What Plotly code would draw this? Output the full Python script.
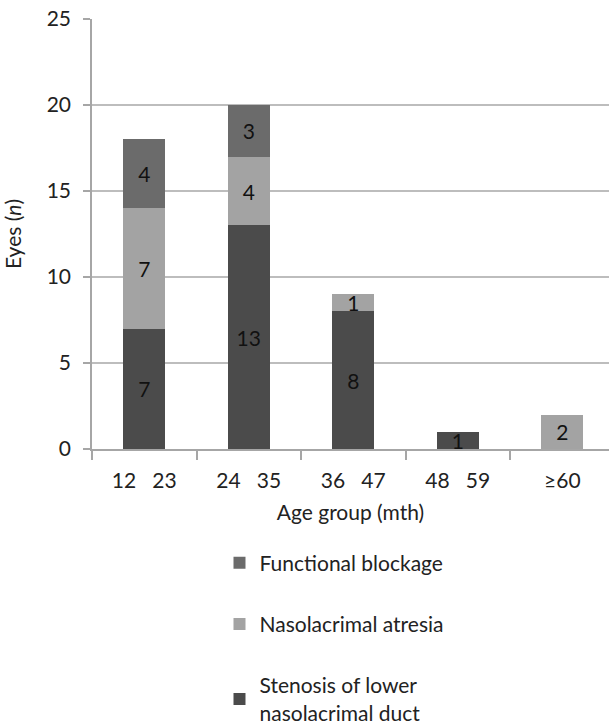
import plotly.graph_objects as go

categories = ["12\u00a0\u00a0\u00a023", "24\u00a0\u00a0\u00a035", "36\u00a0\u00a0\u00a047", "48\u00a0\u00a0\u00a059", "\u226560"]
stenosis = [7, 13, 8, 1, 0]
atresia = [7, 4, 1, 0, 2]
functional = [4, 3, 0, 0, 0]

series = [
    ("Stenosis of lower<br>nasolacrimal duct", stenosis, "#4b4b4b", "g3", 3),
    ("Nasolacrimal atresia", atresia, "#a3a3a3", "g2", 2),
    ("Functional blockage", functional, "#6b6b6b", "g1", 1),
]

FONT = "Lato, 'Open Sans', sans-serif"
FS = 21
fig = go.Figure()
for name, vals, color, grp, rank in series:
    fig.add_trace(go.Bar(
        x=categories, y=vals, name=name, marker=dict(color=color, line=dict(width=0)),
        text=[str(v) if v else "" for v in vals], textposition="inside", textangle=0,
        insidetextanchor="middle", constraintext="none", cliponaxis=False,
        textfont=dict(family=FONT, size=FS, color="#111111"),
        legendgroup=grp, legendrank=rank,
    ))

fig.update_layout(
    barmode="stack", bargap=0.6,
    width=609, height=725,
    margin=dict(l=92, r=0, t=19, b=276, autoexpand=False),
    paper_bgcolor="white", plot_bgcolor="white",
    font=dict(family=FONT, size=FS, color="#222222"),
    showlegend=True,
    legend=dict(x=0.2466, xanchor="left", y=-0.2175, yanchor="top",
                traceorder="grouped", tracegroupgap=31,
                font=dict(family=FONT, size=FS, color="#222222"),
                bgcolor="rgba(0,0,0,0)"),
)
fig.update_xaxes(
    range=[-0.5, 4.447], showline=True, linecolor="#a6a6a6", linewidth=1.5,
    ticks="outside", tickson="boundaries", ticklen=9, tickcolor="#a6a6a6", tickwidth=1.5,
    showgrid=False, tickfont=dict(size=FS, color="#222222"), ticklabelstandoff=12,
    automargin=False,
    title=dict(text="Age group (mth)", font=dict(size=FS), standoff=14),
)
fig.update_yaxes(
    range=[0, 25], dtick=5, showline=True, linecolor="#a6a6a6", linewidth=1.5,
    ticks="outside", ticklen=7, tickcolor="#a6a6a6", tickwidth=1.5,
    showgrid=True, gridcolor="#bdbdbd", gridwidth=1.5, zeroline=False,
    tickfont=dict(size=FS, color="#222222"), ticklabelstandoff=8,
    automargin=False,
    title=dict(text="Eyes (<i>n</i>)", font=dict(size=FS), standoff=23),
)
fig.write_html(
    "out.html",
    config={"displayModeBar": False},
    post_script="document.body.style.margin='0';document.body.style.overflow='hidden';",
)
